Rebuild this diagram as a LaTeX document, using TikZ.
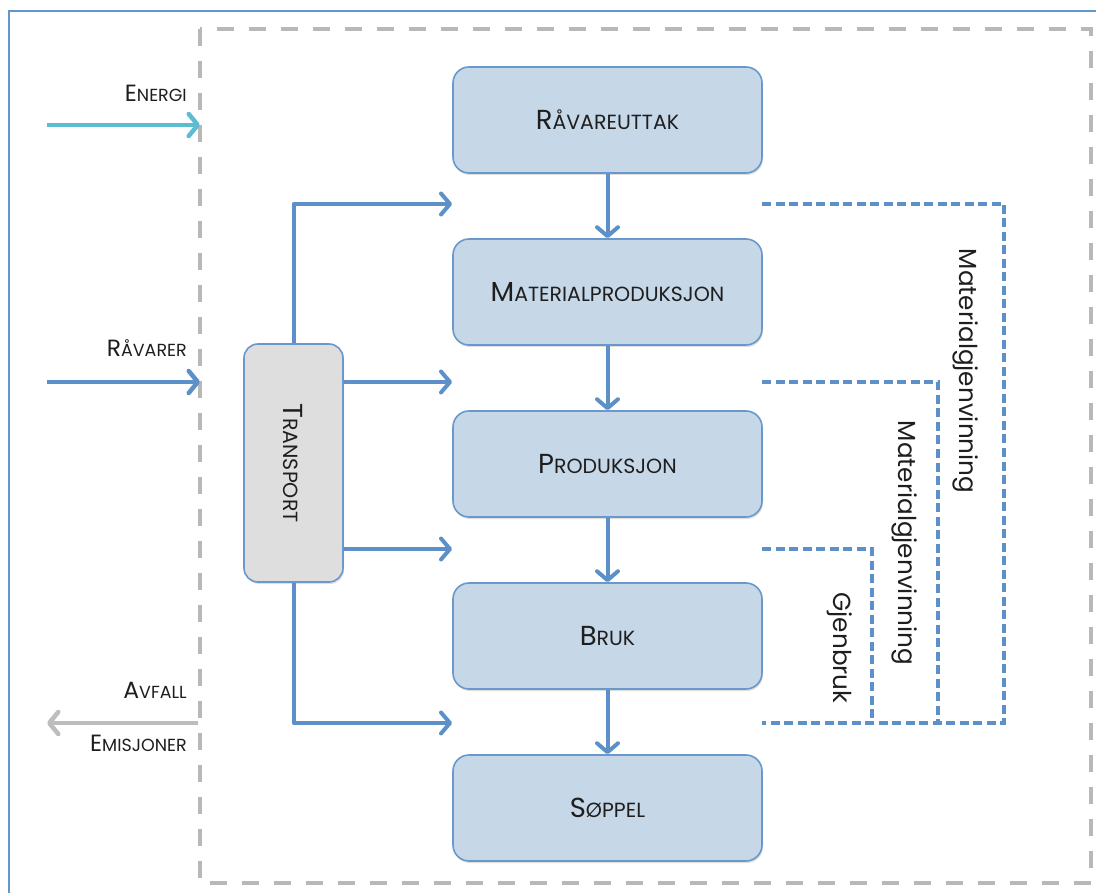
\documentclass[tikz,border=0pt]{standalone}
\usepackage{fontspec}
\setmainfont{Poppins}
\usetikzlibrary{arrows.meta,shadows}
\definecolor{frameblue}{HTML}{6396CC}
\definecolor{arrowblue}{HTML}{5D8FC8}
\definecolor{boxfill}{HTML}{C6D7E8}
\definecolor{boxline}{HTML}{6A98CB}
\definecolor{trfill}{HTML}{DEDEDE}
\definecolor{graydash}{HTML}{B8B8B8}
\definecolor{energicol}{HTML}{5CBCD2}
\definecolor{avfallcol}{HTML}{BDBDBD}
\definecolor{txt}{HTML}{1E1E1E}
\newcommand\BoxSC[2]{{\fontsize{27.5pt}{30pt}\selectfont #1}{\fontsize{20.5pt}{23pt}\selectfont #2}}
\newcommand\SideSC[2]{{\fontsize{23.5pt}{26pt}\selectfont #1}{\fontsize{17.5pt}{20pt}\selectfont #2}}
\begin{document}
\begin{tikzpicture}[x=1pt,y=-1pt,
  stagebox/.style={rectangle, rounded corners=16pt, draw=boxline, line width=1.6pt, fill=boxfill,
    minimum width=309pt, minimum height=106pt, inner sep=0pt, text=txt,
    drop shadow={shadow xshift=1pt, shadow yshift=-2pt, opacity=0.25}},
  transbox/.style={rectangle, rounded corners=14pt, draw=boxline, line width=1.6pt, fill=trfill,
    minimum width=99pt, minimum height=238pt, inner sep=0pt, text=txt,
    drop shadow={shadow xshift=1pt, shadow yshift=-2pt, opacity=0.25}},
  flow/.style={draw=arrowblue, line width=4pt, line join=round,
    -{Straight Barb[length=9pt,width=21pt,round]}},
  inflow/.style={line width=4.5pt, -{Straight Barb[length=9pt,width=22pt,round]}},
  feedback/.style={draw=arrowblue, line width=3.5pt, dash pattern=on 9pt off 4.5pt},
  sidelabel/.style={anchor=base east, inner sep=0pt, text=txt},
  looplabel/.style={rotate=-90, inner sep=0pt, text=txt, font=\fontsize{24.7pt}{28pt}\selectfont}
]
\useasboundingbox (0,0) rectangle (1096,893);
% outer frame
\draw[frameblue, line width=2.5pt] (9,905) -- (9,11) -- (1110,11);
% system boundary
\draw[graydash, line width=4pt, dash pattern=on 17pt off 15pt] (200,29) rectangle (1091,883);

% stages
\node[stagebox] (rv) at (607.5,120) {\BoxSC{R}{ÅVAREUTTAK}};
\node[stagebox] (mp) at (607.5,292) {\BoxSC{M}{ATERIALPRODUKSJON}};
\node[stagebox] (pr) at (607.5,464) {\BoxSC{P}{RODUKSJON}};
\node[stagebox] (br) at (607.5,636) {\BoxSC{B}{RUK}};
\node[stagebox] (sp) at (607.5,808) {\BoxSC{S}{ØPPEL}};
\node[transbox] (tr) at (293.5,463) {\rotatebox{-90}{\BoxSC{T}{RANSPORT}}};

% main flow
\draw[flow] (rv.south) -- (mp.north);
\draw[flow] (mp.south) -- (pr.north);
\draw[flow] (pr.south) -- (br.north);
\draw[flow] (br.south) -- (sp.north);

% transport connectors
\coordinate (t1) at (452,204);
\coordinate (t2) at (452,382);
\coordinate (t3) at (452,549);
\coordinate (t4) at (452,723);
\draw[flow] (tr.north) |- (t1);
\draw[flow] (tr.east |- t2) -- (t2);
\draw[flow] (tr.east |- t3) -- (t3);
\draw[flow] (tr.south) |- (t4);

% inputs / outputs
\coordinate (e0) at (47,125);
\coordinate (e1) at (200,125);
\coordinate (r0) at (47,382);
\coordinate (r1) at (200,382);
\coordinate (a0) at (198,723);
\coordinate (a1) at (47,723);
\draw[inflow, draw=energicol] (e0) -- (e1);
\draw[inflow, draw=arrowblue] (r0) -- (r1);
\draw[inflow, draw=avfallcol] (a0) -- (a1);
\node[sidelabel] (lE) at (187,102) {\SideSC{E}{NERGI}};
\node[sidelabel] (lR) at (187,357) {\SideSC{R}{ÅVARER}};
\node[sidelabel] (lA) at (187,698) {\SideSC{A}{VFALL}};
\node[sidelabel] (lM) at (187,751) {\SideSC{E}{MISJONER}};

% feedback loops
\coordinate (f1a) at (762,204);
\coordinate (f1b) at (1004,204);
\coordinate (f1c) at (1004,723);
\coordinate (f0) at (762,723);
\coordinate (f2a) at (762,382);
\coordinate (f2b) at (938,382);
\coordinate (f2c) at (938,723);
\coordinate (f3a) at (762,549);
\coordinate (f3b) at (872,549);
\coordinate (f3c) at (872,723);
\draw[feedback] (f1a) -- (f1b) -- (f1c) -- (f0);
\draw[feedback] (f2a) -- (f2b) -- (f2c);
\draw[feedback] (f3a) -- (f3b) -- (f3c);
\node[looplabel] (L1) at (966,371) {Materialgjenvinning};
\node[looplabel] (L2) at (905,543) {Materialgjenvinning};
\node[looplabel] (L3) at (840,648) {Gjenbruk};
\end{tikzpicture}
\end{document}
